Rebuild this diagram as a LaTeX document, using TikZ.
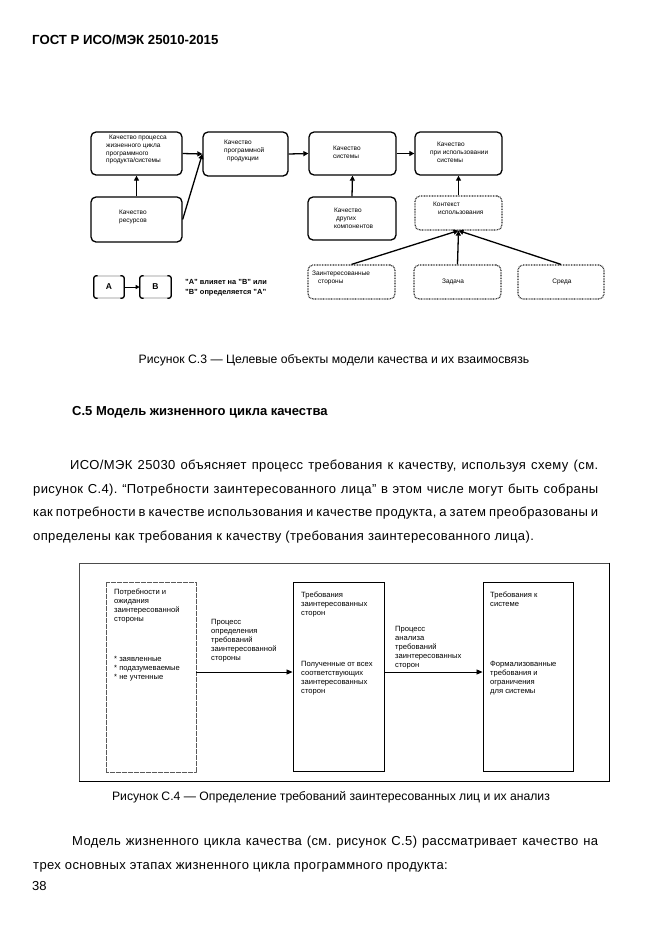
\documentclass[tikz,border=0pt]{standalone}
\usepackage{fontspec}
\setmainfont{Liberation Sans}
\usetikzlibrary{arrows.meta}
\newcommand{\fsz}[2]{\fontsize{#1}{#2}\selectfont}
\begin{document}
\frenchspacing
\begin{tikzpicture}[x=1pt,y=-1pt,
  qbox/.style={draw, line width=1.3pt, rounded corners=5pt, inner sep=0pt},
  dbox/.style={draw=black!85, line width=1.2pt, dash pattern=on 0.8pt off 0.8pt, rounded corners=5pt, inner sep=0pt},
  lbox/.style={draw=black!45, line width=0.6pt, rounded corners=3pt, inner sep=0pt, minimum height=22pt, font=\bfseries\fsz{8.5}{10}},
  arr/.style={line width=1.3pt, -{Triangle[length=5pt,width=5pt]}},
  arrb/.style={line width=0.8pt, -{Triangle[length=6pt,width=5pt]}},
  ta/.style={font=\fsz{6.5}{7.7}, align=left, anchor=north west, inner sep=0pt},
  tc/.style={font=\fsz{6.5}{7.7}, align=center, inner sep=0pt},
  tb/.style={font=\fsz{7.6}{8.9}, align=left, anchor=north west, inner sep=0pt},
  sbox/.style={draw, line width=0.9pt, inner sep=0pt},
  pbox/.style={draw=black!65, line width=0.9pt, dash pattern=on 0.6pt off 0.6pt, inner sep=0pt},
  body/.style={font=\fsz{13}{23.5}\addfontfeature{LetterSpace=3}, text width=565pt, align=justify, anchor=north west, inner sep=0pt},
  capt/.style={font=\fsz{12.2}{14}, inner sep=0pt}
]
\useasboundingbox (0,0) rectangle (661,935);
\fill[white] (0,0) rectangle (661,935);

% header
\node[font=\bfseries\fsz{13.2}{15}, anchor=west, inner sep=0pt] (hdr) at (32,40) {ГОСТ Р ИСО/МЭК 25010-2015};

% ---------- Figure C.3 ----------
\node[qbox, minimum width=91pt, minimum height=43pt] (b1) at (136.5,153.5) {};
\node[qbox, minimum width=91pt, minimum height=45pt] (res) at (136.5,219.5) {};
\node[qbox, minimum width=85pt, minimum height=44pt] (b2) at (245.5,154) {};
\node[qbox, minimum width=87pt, minimum height=43pt] (sys) at (352.5,153.5) {};
\node[qbox, minimum width=87pt, minimum height=43pt] (use) at (458.5,153.5) {};
\node[qbox, minimum width=88pt, minimum height=43pt] (oth) at (352,218.5) {};
\node[dbox, minimum width=87pt, minimum height=34pt] (ctx) at (458.5,213) {};
\node[dbox, minimum width=87pt, minimum height=34pt] (stk) at (351.5,282) {};
\node[dbox, minimum width=87pt, minimum height=34pt] (task) at (457.5,282) {};
\node[dbox, minimum width=86pt, minimum height=34pt] (env) at (561,282) {};

\node[ta] (b1t) at (106,135) {\hspace{3pt}Качество процесса\\жизненного цикла\\программного\\продукта/системы};
\node[ta] (rest) at (119,210) {Качество\\ресурсов};
\node[ta] (b2t) at (224,140) {Качество\\программной\\\hspace{3pt}продукции};
\node[ta] (syst) at (333,146) {Качество\\системы};
\node[ta] (uset) at (430,142) {\hspace{7pt}Качество\\при использовании\\\hspace{7pt}системы};
\node[ta] (otht) at (334,208) {Качество\\\hspace{2pt}других\\компонентов};
\node[ta] (ctxt) at (433,202) {Контекст\\\hspace{5pt}использования};
\node[ta] (stkt) at (312,271) {Заинтересованные\\\hspace{6pt}стороны};
\node[tc] (taskt) at (453,282) {Задача};
\node[tc] (envt) at (562,282) {Среда};

\draw[arr] (b1.east) -- (b2.west);
\draw[arr] (res.east) -- (b2.west);
\draw[arr] (res.north) -- (b1.south);
\draw[arr] (b2.east) -- (sys.west);
\draw[arr] (sys.east) -- (use.west);
\draw[arr] (oth.north) -- (sys.south);
\draw[arr] (ctx.north) -- (use.south);
\draw[arr] (stk.north) -- (ctx.south);
\draw[arr] (task.north) -- (ctx.south);
\draw[arr] (env.north) -- (ctx.south);

% legend
\node[lbox, minimum width=30pt] (la) at (109,287) {A};
\node[lbox, minimum width=31pt] (lb) at (155.5,287) {B};
\foreach \n in {la,lb}{
  \draw[line width=1.2pt, rounded corners=2.5pt] ([xshift=4pt]\n.north west) -- (\n.north west) -- (\n.south west) -- ([xshift=4pt]\n.south west);
  \draw[line width=1.2pt, rounded corners=2.5pt] ([xshift=-4pt]\n.north east) -- (\n.north east) -- (\n.south east) -- ([xshift=-4pt]\n.south east);
}
\draw[line width=1pt, -{Triangle[length=4pt,width=4pt]}] (la.east) -- (lb.west);
\node[font=\bfseries\fsz{7.4}{10}, align=left, anchor=north west, inner sep=0pt] (legt) at (185,279.6) {"A" влияет на "B" или\\"B" определяется "A"};

\node[capt] (cap3) at (334,360) {Рисунок С.3 — Целевые объекты модели качества и их взаимосвязь};

% section heading
\node[font=\bfseries\fsz{13}{15}, anchor=west, inner sep=0pt] (sec) at (72,412) {С.5 Модель жизненного цикла качества};

\node[body] (par1) at (33,460) {\hspace*{37pt}ИСО/МЭК 25030 объясняет процесс требования к качеству, используя схему (см.\linebreak
рисунок С.4). “Потребности заинтересованного лица" в этом числе могут быть собраны\linebreak
как потребности в качестве использования и качестве продукта, а затем преобразованы и\linebreak
определены как требования к качеству (требования заинтересованного лица).};

% ---------- Figure C.4 ----------
\node[draw=black!70, line width=1pt, minimum width=530pt, minimum height=218pt, inner sep=0pt] (frame) at (344,672) {};
\draw[line width=1.6pt] (frame.north east) -- (frame.south east) -- (frame.south west);

\node[pbox, minimum width=90pt, minimum height=190pt] (lbx) at (151,677) {};
\node[sbox, minimum width=91pt, minimum height=189pt] (mbx) at (338.5,676.5) {};
\node[sbox, minimum width=90pt, minimum height=189pt] (rbx) at (528,676.5) {};

\coordinate (ay) at (0,672);
\draw[arrb] (lbx.east |- ay) -- (mbx.west |- ay);
\draw[arrb] (mbx.east |- ay) -- (rbx.west |- ay);

\node[tb] (l1) at (114,589) {Потребности и\\ожидания\\заинтересованной\\стороны};
\node[tb] (l2) at (114,656) {* заявленные\\* подазумеваемые\\* не учтенные};
\node[tb] (lab1) at (211,619) {Процесс\\определения\\требований\\заинтересованной\\стороны};
\node[tb] (m1) at (301,592) {Требования\\заинтересованных\\сторон};
\node[tb] (m2) at (301,661) {Полученные от всех\\соответствующих\\заинтересованных\\сторон};
\node[tb] (lab2) at (395,626) {Процесс\\анализа\\требований\\заинтересованных\\сторон};
\node[tb] (r1) at (490,592) {Требования к\\системе};
\node[tb] (r2) at (490,661) {Формализованные\\требования и\\ограничения\\для системы};

\node[capt] (cap4) at (331,797) {Рисунок С.4 — Определение требований заинтересованных лиц и их анализ};

\node[body] (par2) at (33,836) {\hspace*{39pt}Модель жизненного цикла качества (см. рисунок С.5) рассматривает качество на\linebreak
трех основных этапах жизненного цикла программного продукта:};

\node[font=\fsz{13}{15}, anchor=west, inner sep=0pt] (pg) at (32,886) {38};
\end{tikzpicture}
\end{document}
